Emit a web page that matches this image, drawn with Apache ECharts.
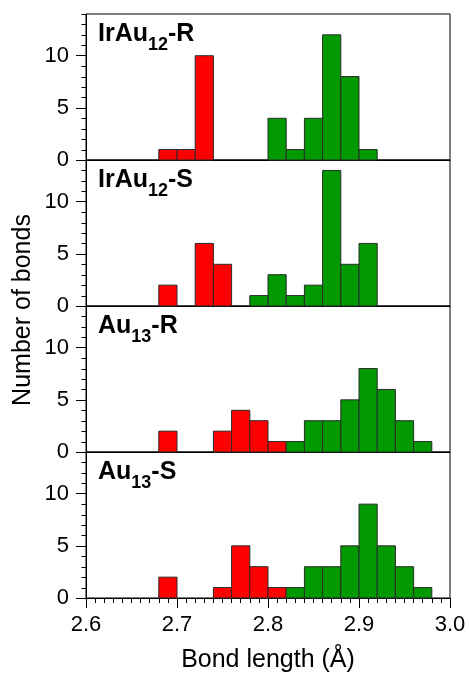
<!DOCTYPE html>
<html>
<head>
<meta charset="utf-8">
<script src="https://cdn.jsdelivr.net/npm/echarts@6/dist/echarts.min.js"></script>
<style>
  html, body { margin: 0; padding: 0; background: #fff; }
  #chart { width: 469px; height: 676px; }
</style>
</head>
<body>
<div id="chart"></div>
<script>
// Histogram bin starts (Å), bin width 0.02
const binStarts = [2.60, 2.62, 2.64, 2.66, 2.68, 2.70, 2.72, 2.74, 2.76, 2.78,
                   2.80, 2.82, 2.84, 2.86, 2.88, 2.90, 2.92, 2.94, 2.96, 2.98];
const BIN_WIDTH = 0.02;

// Bond counts per bin, split into the two bond groups (red / green)
const irau12R_red   = [0,0,0,0,1,1,10,0,0,0, 0,0,0,0,0,0,0,0,0,0];
const irau12R_green = [0,0,0,0,0,0,0,0,0,0, 4,1,4,12,8,1,0,0,0,0];
const irau12S_red   = [0,0,0,0,2,0,6,4,0,0, 0,0,0,0,0,0,0,0,0,0];
const irau12S_green = [0,0,0,0,0,0,0,0,0,1, 3,1,2,13,4,6,0,0,0,0];
const au13R_red     = [0,0,0,0,2,0,0,2,4,3, 1,0,0,0,0,0,0,0,0,0];
const au13R_green   = [0,0,0,0,0,0,0,0,0,0, 0,1,3,3,5,8,6,3,1,0];
const au13S_red     = [0,0,0,0,2,0,0,1,5,3, 1,0,0,0,0,0,0,0,0,0];
const au13S_green   = [0,0,0,0,0,0,0,0,0,0, 0,1,3,3,5,9,5,3,1,0];

// Panel labels: [main, subscript, suffix]
const panelLabels = [
  ['IrAu', '12', '-R'],
  ['IrAu', '12', '-S'],
  ['Au', '13', '-R'],
  ['Au', '13', '-S']
];
const panelCounts = [
  [irau12R_red, irau12R_green],
  [irau12S_red, irau12S_green],
  [au13R_red, au13R_green],
  [au13S_red, au13S_green]
];

const xTickLabels = ['2.6', '2.7', '2.8', '2.9', '3.0'];
const yTickValues = [0, 5, 10];
const yMinorTickValues = [1, 2, 3, 4, 6, 7, 8, 9, 11, 12, 13, 14];

const RED = '#ff0000';
const GREEN = '#009900';
const FONT = '"Liberation Sans", Arial, sans-serif';

const X_MIN = 2.6, X_MAX = 3.0;
const PLOT_LEFT = 86, PLOT_RIGHT = 19, PLOT_TOP = 14, PANEL_H = 146;
const MINOR_TICK_LEN = 5;

const grids = [], xAxes = [], yAxes = [], series = [], titles = [];

function renderBin(params, api) {
  const x0 = api.value(0), x1 = api.value(1), n = api.value(2);
  if (!n) return null;
  const p0 = api.coord([x0, n]);
  const p1 = api.coord([x1, 0]);
  return {
    type: 'rect',
    shape: { x: p0[0], y: p0[1], width: p1[0] - p0[0], height: p1[1] - p0[1] },
    style: { fill: api.visual('color'), stroke: '#2a2a2a', lineWidth: 1 }
  };
}

// short y ticks at every count, placed through the y scale on the left axis line
function renderMinorTick(params, api) {
  const p = api.coord([api.value(0), api.value(1)]);
  const y = Math.round(p[1]) + 0.5;
  const x = Math.round(p[0]) + 0.5;
  return {
    type: 'line',
    shape: { x1: x - MINOR_TICK_LEN, y1: y, x2: x, y2: y },
    style: { stroke: '#000', lineWidth: 1 }
  };
}

panelCounts.forEach((pair, i) => {
  const isBottom = i === panelCounts.length - 1;
  grids.push({
    left: PLOT_LEFT, right: PLOT_RIGHT,
    top: PLOT_TOP + i * PANEL_H, height: PANEL_H,
    show: true, borderColor: '#000', borderWidth: 1, backgroundColor: 'transparent'
  });
  xAxes.push({
    type: 'value', gridIndex: i, min: X_MIN, max: X_MAX, interval: 0.1,
    axisLine: { show: true, lineStyle: { color: '#000', width: 1 } },
    axisTick: { show: isBottom, length: 10, lineStyle: { color: '#000' } },
    minorTick: { show: isBottom, splitNumber: 10, length: 5, lineStyle: { color: '#000' } },
    splitLine: { show: false },
    axisLabel: {
      show: isBottom, margin: 16, fontSize: 22, color: '#000', fontFamily: FONT,
      formatter: v => xTickLabels[Math.round((v - X_MIN) * 10)]
    },
    name: isBottom ? 'Bond length (Å)' : '',
    nameLocation: 'middle', nameGap: 50,
    nameTextStyle: { fontSize: 25, color: '#000', fontFamily: FONT }
  });
  yAxes.push({
    type: 'value', gridIndex: i, min: 0, max: 14, interval: 5,
    axisLine: { show: true, lineStyle: { color: '#000', width: 1 } },
    axisTick: { show: true, length: 10, customValues: yTickValues, lineStyle: { color: '#000' } },
    splitLine: { show: false },
    axisLabel: {
      show: true, margin: 17, fontSize: 22, color: '#000', fontFamily: FONT,
      customValues: yTickValues
    }
  });

  [RED, GREEN].forEach((color, k) => {
    const counts = pair[k];
    series.push({
      type: 'custom',
      xAxisIndex: i, yAxisIndex: i,
      renderItem: renderBin,
      itemStyle: { color: color },
      encode: { x: [0, 1], y: 2 },
      data: binStarts.map((b, j) => [b, b + BIN_WIDTH, counts[j]]),
      silent: true, animation: false
    });
  });

  series.push({
    type: 'custom',
    xAxisIndex: i, yAxisIndex: i,
    renderItem: renderMinorTick,
    encode: { x: 0, y: 1 },
    data: yMinorTickValues.map(v => [X_MIN, v]),
    clip: false, silent: true, animation: false
  });

  const lab = panelLabels[i];
  titles.push({
    text: '{a|' + lab[0] + '}{s|' + lab[1] + '}{a|' + lab[2] + '}',
    left: 98, top: PLOT_TOP + i * PANEL_H + 8, padding: 0,
    textStyle: {
      rich: {
        a: { fontSize: 25, fontWeight: 'bold', color: '#000', fontFamily: FONT,
             lineHeight: 28, verticalAlign: 'top' },
        s: { fontSize: 18, fontWeight: 'bold', color: '#000', fontFamily: FONT,
             lineHeight: 16, verticalAlign: 'top', padding: [14, 0, 0, 0] }
      }
    }
  });
});

const chart = echarts.init(document.getElementById('chart'), null, { renderer: 'canvas' });
chart.setOption({
  animation: false,
  backgroundColor: '#fff',
  title: titles,
  grid: grids,
  xAxis: xAxes,
  yAxis: yAxes,
  series: series,
  graphic: [{
    type: 'text',
    x: 23, y: 310,
    rotation: Math.PI / 2,
    style: {
      text: 'Number of bonds', fontSize: 25, fill: '#000', fontFamily: FONT,
      align: 'center', verticalAlign: 'middle'
    }
  }]
});
</script>
</body>
</html>
